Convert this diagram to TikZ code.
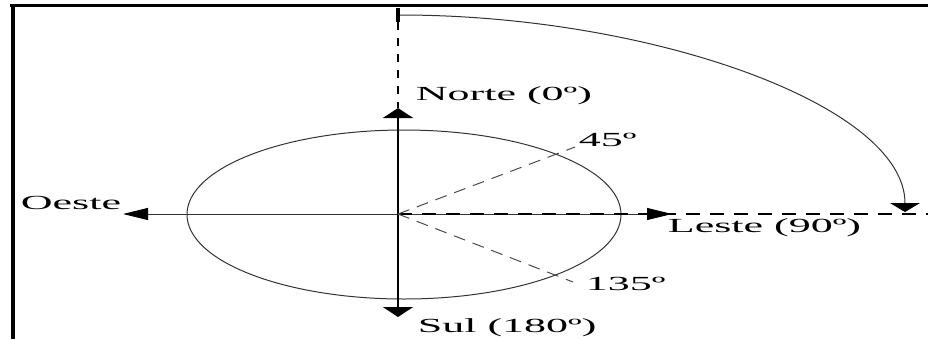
\documentclass[tikz,border=0pt]{standalone}
\usepackage{fontspec}
\setmainfont{Liberation Serif}
\usetikzlibrary{arrows.meta, positioning}

\begin{document}
\begin{tikzpicture}[x=0.5pt, y=0.5pt,
    lbl/.style={font=\fontsize{10}{12}\selectfont, inner sep=0pt,
                xscale=2.2, transform shape, anchor=west},
    fineline/.style={line width=0.5pt, draw=black!80},
    axisline/.style={line width=1pt, draw=black},
    guide/.style={line width=1pt, dash pattern=on 7pt off 5pt},
    diag/.style={line width=0.5pt, draw=black!70, dash pattern=on 6pt off 4pt},
    htip/.style={-{Triangle[length=12.5pt, width=6pt, color=black]}},
    vtip/.style={{Triangle[length=5pt, width=15pt]}-{Triangle[length=5pt, width=15pt]}}
]
    \useasboundingbox (0,0) rectangle (928,-339);

    % frame
    \draw[line width=1.5pt] (10,-5.5) -- (928,-5.5);
    \draw[line width=2pt] (12.5,-4) -- (12.5,-339);

    \coordinate (c) at (398,-214);
    \coordinate (n) at (398,-108);
    \coordinate (s) at (398,-317);
    \coordinate (w) at (123,-214);
    \coordinate (e) at (672,-214);
    \coordinate (edge) at (928,-214);
    \coordinate (d45) at (575,-147);
    \coordinate (d135) at (573,-282);
    \coordinate (tick0) at (398,-8);
    \coordinate (tick1) at (398,-22);
    \coordinate (bend0) at (400,-15);
    \coordinate (bend1) at (905,-212);

    \draw[fineline] (404,-214.5) ellipse [x radius=217, y radius=84.5];

    % axes
    \draw[fineline, htip] (c) -- (w);
    \draw[fineline, htip] (c) -- (e);
    \draw[guide] (c) -- (edge);
    \draw[axisline, vtip] (s) -- (n);
    \draw[diag] (c) -- (d45);
    \draw[diag] (c) -- (d135);

    % rotation from north to east
    \draw[line width=2pt] (tick0) -- (tick1);
    \draw[line width=1pt, dash pattern=on 4pt off 4pt] (tick1) -- (n);
    \draw[fineline, -{Triangle[length=4.5pt, width=15pt, color=black]}]
        (bend0) .. controls (650,-15) and (905,-105) .. (bend1);

    \node[lbl] (norte) at (415,-96) {Norte (0º)};
    \node[lbl] (a45) at (578,-140) {45º};
    \node[lbl] (oeste) at (20,-203) {Oeste};
    \node[lbl] (leste) at (667,-228) {Leste (90º)};
    \node[lbl] (a135) at (585,-284) {135º};
    \node[lbl] (sul) at (417,-328) {Sul (180º)};
\end{tikzpicture}
\end{document}
